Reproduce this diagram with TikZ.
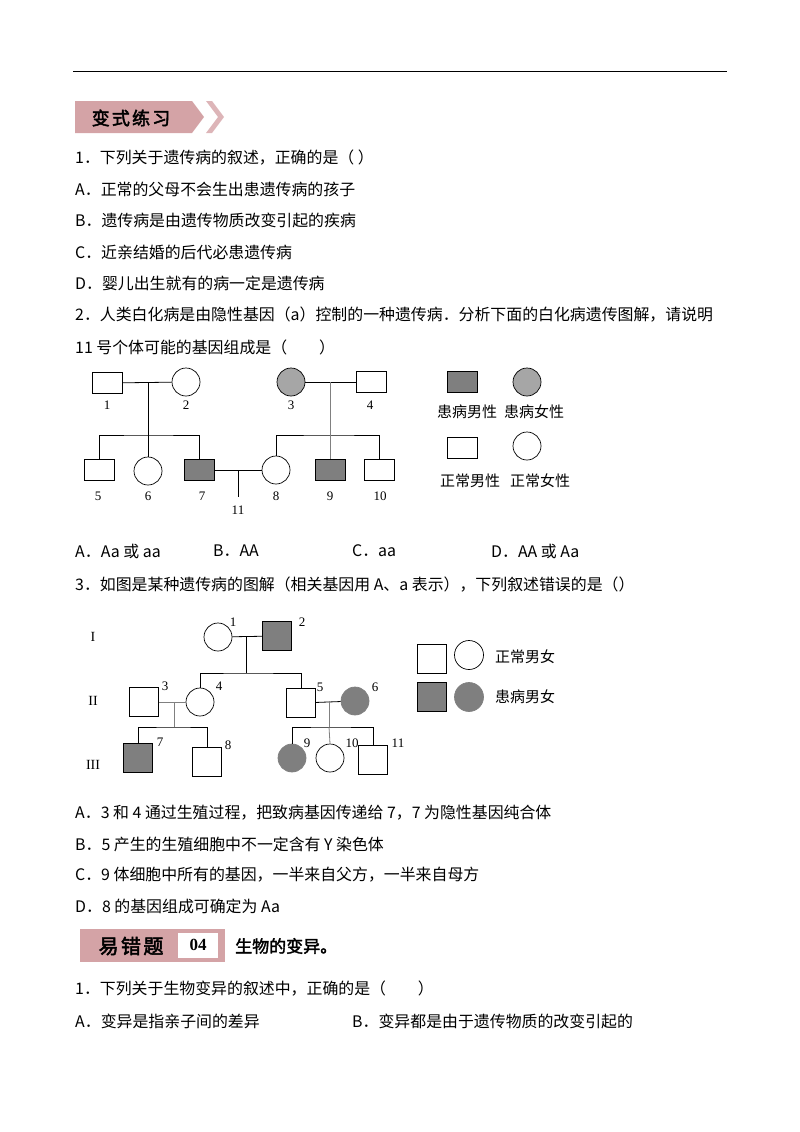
\documentclass[tikz,border=0pt]{standalone}
\usepackage{fontspec}
\setmainfont{Noto Sans CJK SC}
\newfontfamily\cjkb[FakeBold=2.5,LetterSpace=12]{Noto Sans CJK SC}
\newfontfamily\cjkbn[FakeBold=2]{Noto Sans CJK SC}
\newfontfamily\ser{Liberation Serif}
\definecolor{dk}{HTML}{7F7F7F}
\definecolor{lt}{HTML}{A6A6A6}
\definecolor{pk}{HTML}{D4A3A6}
\begin{document}
\begin{tikzpicture}[x=1pt,y=-1pt,
  t/.style={anchor=west,inner sep=0,font=\fontsize{15.9}{17}\selectfont},
  lb/.style={inner sep=0,font=\ser\fontsize{13}{14}\selectfont},
  lg/.style={inner sep=0,font=\fontsize{15}{16}\selectfont},
  sq/.style={draw,line width=0.7pt,minimum width=30,minimum height=21,inner sep=0},
  sqb/.style={draw,line width=0.7pt,minimum width=29,minimum height=29,inner sep=0},
  ci/.style={draw,line width=0.7pt,circle,minimum size=28,inner sep=0},
  ln/.style={line width=0.8pt}]
\useasboundingbox (0,0) rectangle (800,1132);
\draw[line width=1pt] (73,72) -- (727,72);
% banner 1
\fill[pk] (75,101) -- (192,101) -- (204,117) -- (192,133) -- (75,133) -- cycle;
\fill[pk!80] (206,101) -- (212,101) -- (224,117) -- (212,133) -- (206,133) -- (218,117) -- cycle;
\node[inner sep=0,font=\cjkb\fontsize{18}{19}\selectfont] (b1) at (131,118) {变式练习};
\node[t] (q1) at (75,158) {1．下列关于遗传病的叙述，正确的是（ ）};
\node[t] (q1a) at (75,189) {A．正常的父母不会生出患遗传病的孩子};
\node[t] (q1b) at (75,220) {B．遗传病是由遗传物质改变引起的疾病};
\node[t] (q1c) at (75,252) {C．近亲结婚的后代必患遗传病};
\node[t] (q1d) at (75,283) {D．婴儿出生就有的病一定是遗传病};
\node[t] (q2) at (75,315) {2．人类白化病是由隐性基因（a）控制的一种遗传病．分析下面的白化病遗传图解，请说明};
\node[t] (q2b) at (75,347) {11 号个体可能的基因组成是（　　）};
% pedigree 1
\node[sq] (p1) at (107,383) {};
\node[ci] (p2) at (186,382) {};
\node[ci,fill=lt] (p3) at (291,382) {};
\node[sq] (p4) at (371,382) {};
\node[sq] (p5) at (99,470) {};
\node[ci] (p6) at (148,471) {};
\node[sq,fill=dk] (p7) at (199,470) {};
\node[ci] (p8) at (276,470) {};
\node[sq,fill=dk] (p9) at (330,470) {};
\node[sq] (p10) at (379,470) {};
\coordinate (m12) at (148,383); \coordinate (s1) at (148,435);
\coordinate (m34) at (330,382); \coordinate (s2) at (330,435);
\coordinate (m78) at (238,470); \coordinate (c11) at (238,497);
\draw[ln] (p1) -- (p2);
\draw[ln] (m12) -- (s1);
\draw[ln] (p5.north) |- (s1) -| (p7.north);
\draw[ln] (s1) -- (p6.north);
\draw[ln] (p3) -- (p4);
\draw[ln,gray] (m34) -- (s2);
\draw[ln] (p8.north) |- (s2) -| (p10.north);
\draw[ln,gray] (s2) -- (p9.north);
\draw[ln] (p7) -- (p8);
\draw[ln] (m78) -- (c11);
\foreach \n/\x/\y in {1/107/405,2/186/405,3/291/405,4/370/405,5/98/496,6/148/496,7/202/496,8/276/496,9/330/496,10/380/496,11/238/510}
  \node[lb] (l\n) at (\x,\y) {\n};
\node[sq,fill=dk] (g1) at (462,382) {};
\node[ci,fill=lt] (g2) at (527,382) {};
\node[sq] (g3) at (462,448) {};
\node[ci] (g4) at (527,446) {};
\node[lg] (g1t) at (467,412) {患病男性};
\node[lg] (g2t) at (534,412) {患病女性};
\node[lg] (g3t) at (470,481) {正常男性};
\node[lg] (g4t) at (540,481) {正常女性};
\node[t] (q2A) at (75,551) {A．Aa 或 aa};
\node[t] (q2B) at (213,551) {B．AA};
\node[t] (q2C) at (352,551) {C．aa};
\node[t] (q2D) at (491,551) {D．AA 或 Aa};
\node[t] (q3) at (75,585) {3．如图是某种遗传病的图解（相关基因用 A、a 表示），下列叙述错误的是（）};
% pedigree 2
\node[lb,font=\ser\fontsize{14}{15}\selectfont] (r1) at (93,637) {I};
\node[lb,font=\ser\fontsize{14}{15}\selectfont] (r2) at (93,701) {II};
\node[lb,font=\ser\fontsize{14}{15}\selectfont] (r3) at (93,765) {III};
\node[ci] (h1) at (218,637) {};
\node[sqb,fill=dk] (h2) at (277,636) {};
\node[sqb] (h3) at (144,702) {};
\node[ci] (h4) at (200,702) {};
\node[sqb] (h5) at (301,703) {};
\node[ci,fill=dk,draw=gray] (h6) at (355,701) {};
\node[sqb,fill=dk] (h7) at (138,758) {};
\node[sqb] (h8) at (207,762) {};
\node[ci,fill=dk,draw=gray] (h9) at (292,758) {};
\node[ci] (h10) at (330,758) {};
\node[sqb] (h11) at (373,760) {};
\coordinate (n12) at (246,636); \coordinate (t1) at (246,673);
\coordinate (n34) at (174,702); \coordinate (t2) at (174,727);
\coordinate (n56) at (329,701); \coordinate (t3) at (329,727);
\draw[ln] (h1) -- (h2);
\draw[ln] (n12) -- (t1);
\draw[ln] (h4.north) |- (t1) -| (h5.north);
\draw[ln,gray] (h3) -- (h4);
\draw[ln,gray] (n34) -- (t2);
\draw[ln] (h7.north) |- (t2) -| (h8.north);
\draw[ln] (h5) -- (h6);
\draw[ln,gray] (n56) -- (t3);
\draw[ln] (h9.north) |- (t3) -| (h11.north);
\draw[ln,gray] (t3) -- (h10.north);
\foreach \n/\x/\y in {1/233/622,2/302/622,3/165/686,4/219/686,5/320/687,6/375/687,7/160/742,8/228/745,9/307/743,10/352/743,11/398/743}
  \node[lb] (k\n) at (\x,\y) {\n};
\node[sqb] (e1) at (432,659) {};
\node[ci,minimum size=29] (e2) at (469,655) {};
\node[sqb,fill=dk] (e3) at (432,697) {};
\node[ci,minimum size=29,fill=dk,draw=gray] (e4) at (469,697) {};
\node[lg,anchor=west] (e1t) at (495,657) {正常男女};
\node[lg,anchor=west] (e3t) at (495,697) {患病男女};
\node[t] (q3a) at (75,813) {A．3 和 4 通过生殖过程，把致病基因传递给 7，7 为隐性基因纯合体};
\node[t] (q3b) at (75,844) {B．5 产生的生殖细胞中不一定含有 Y 染色体};
\node[t] (q3c) at (75,875) {C．9 体细胞中所有的基因，一半来自父方，一半来自母方};
\node[t] (q3d) at (75,906) {D．8 的基因组成可确定为 Aa};
% banner 2
\fill[pk] (80,929) rectangle (225,962);
\node[fill=white,minimum width=40,minimum height=25,inner sep=0,font=\ser\bfseries\fontsize{17}{18}\selectfont] (b04) at (198,945) {04};
\node[inner sep=0,font=\cjkb\fontsize{20}{21}\selectfont] (b2) at (131,946) {易错题};
\node[t,font=\cjkbn\fontsize{17}{18}\selectfont] (b2t) at (235,946) {生物的变异。};
\node[t] (q4) at (75,989) {1．下列关于生物变异的叙述中，正确的是（　　）};
\node[t] (q4a) at (75,1021) {A．变异是指亲子间的差异};
\node[t] (q4b) at (352,1021) {B．变异都是由于遗传物质的改变引起的};
\end{tikzpicture}
\end{document}
